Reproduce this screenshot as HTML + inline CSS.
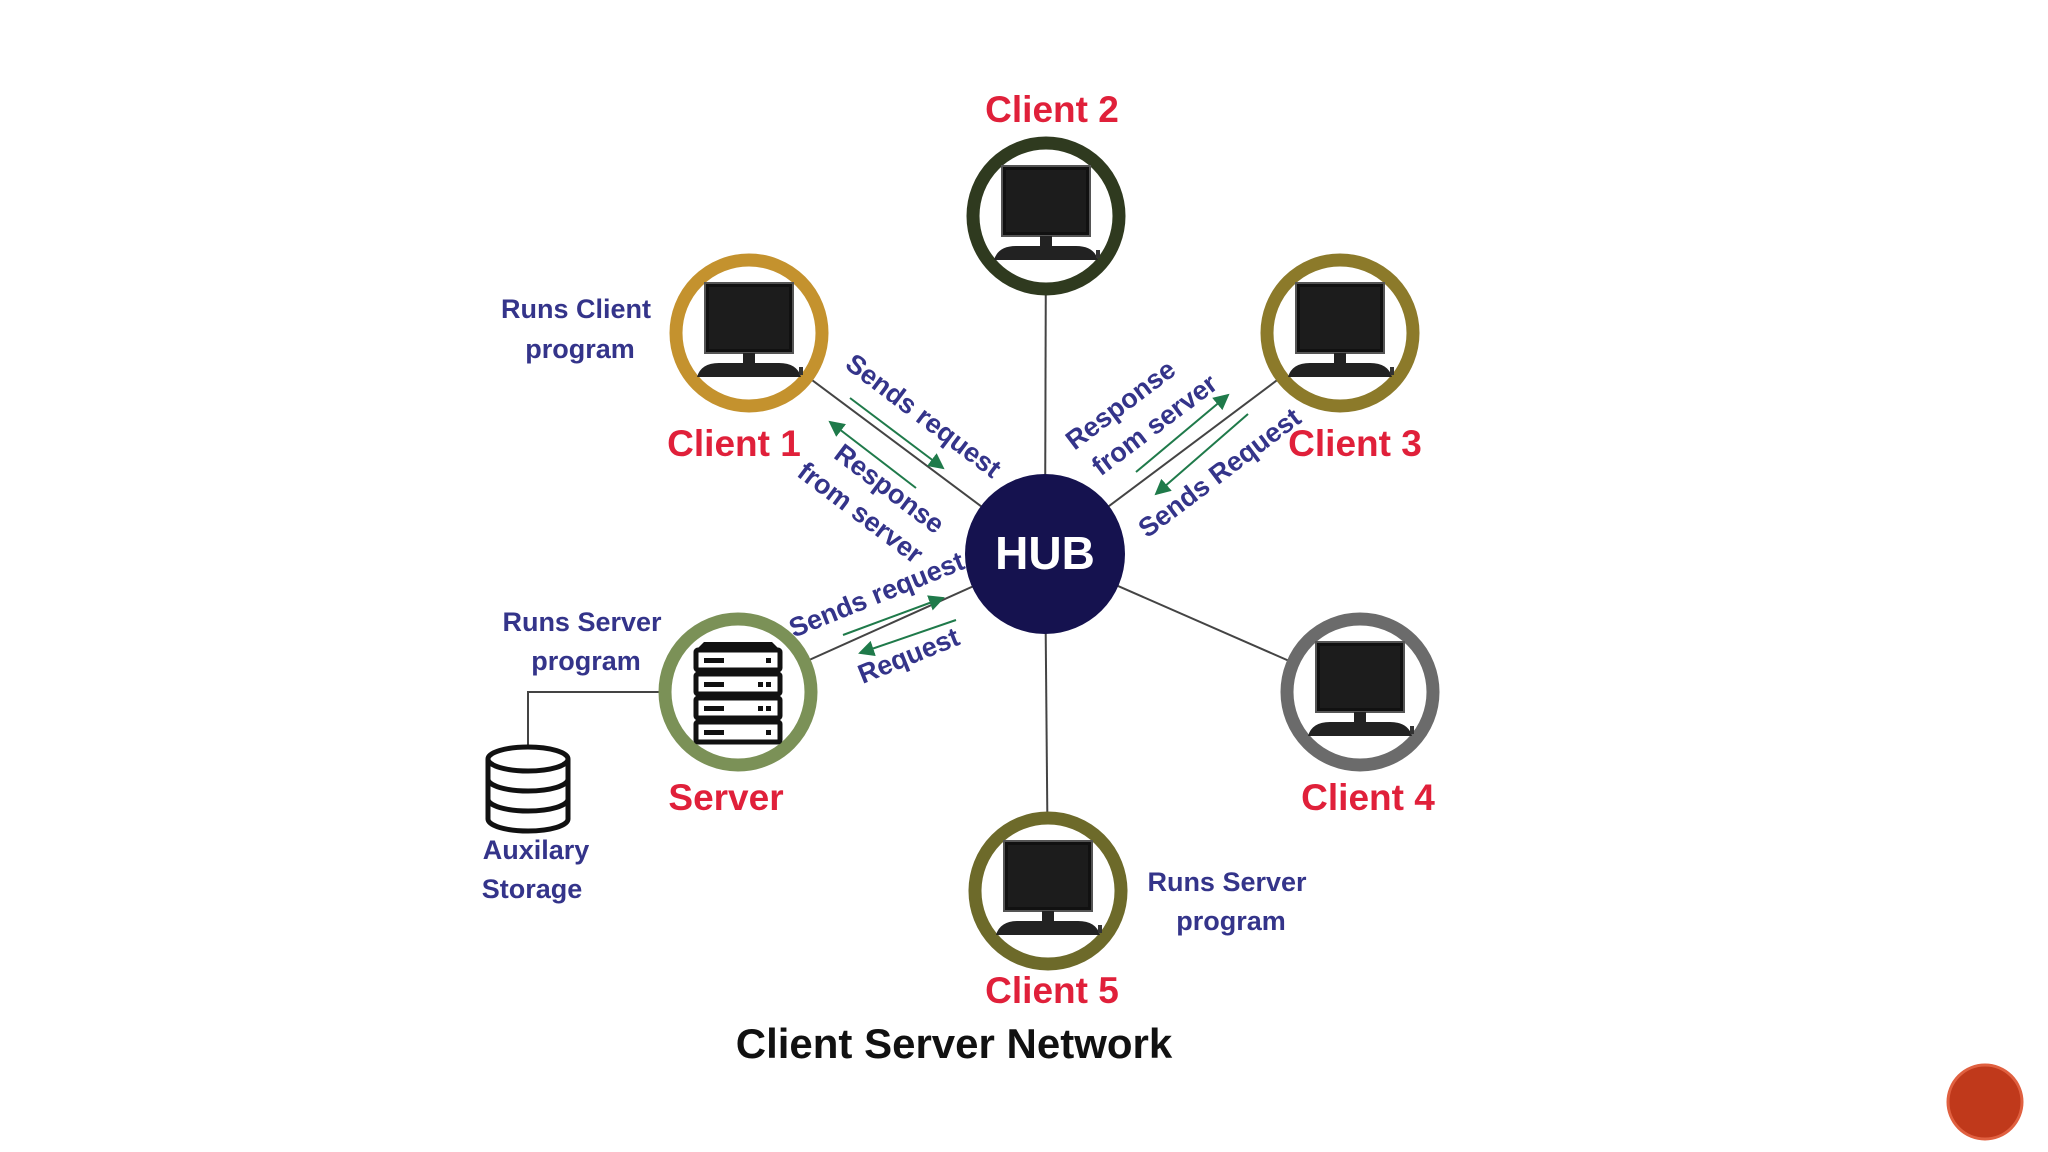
<!DOCTYPE html>
<html><head><meta charset="utf-8"><style>
html,body{margin:0;padding:0;background:#fff;}
svg{display:block;}
text{font-family:"Liberation Sans",sans-serif;}
.red{fill:#e0203a;font-size:37px;font-weight:bold;text-anchor:middle;}
.blue{fill:#34348a;font-size:27px;font-weight:bold;text-anchor:middle;}
</style></head><body>
<svg width="2048" height="1152" viewBox="0 0 2048 1152" xmlns="http://www.w3.org/2000/svg">
<defs>
<g id="mon">
  <rect x="-44" y="-50" width="88" height="70" fill="#111" stroke="#555" stroke-width="2"/>
  <rect x="-40" y="-46" width="80" height="62" fill="#1c1c1c"/>
  <rect x="-6" y="20" width="12" height="10" fill="#222"/>
  <path d="M-52 44 Q-48 30 -30 30 L30 30 Q48 30 52 44 Z" fill="#222"/>
  <rect x="50" y="34" width="4" height="8" fill="#333"/>
</g>
<marker id="ah" markerWidth="8" markerHeight="8" refX="7" refY="4" orient="auto"><path d="M0 0 L8 4 L0 8 Z" fill="#1f7a4a"/></marker>
</defs>
<rect width="2048" height="1152" fill="#fff"/>
<!-- connectors -->
<g stroke="#444" stroke-width="2">
<line x1="1045" y1="554" x2="1046" y2="216"/>
<line x1="1045" y1="554" x2="749" y2="333"/>
<line x1="1045" y1="554" x2="1340" y2="333"/>
<line x1="1045" y1="554" x2="738" y2="692"/>
<line x1="1045" y1="554" x2="1360" y2="692"/>
<line x1="1045" y1="554" x2="1048" y2="891"/>
<polyline points="664,692 528,692 528,763" fill="none"/>
</g>
<!-- green arrows -->
<g stroke="#1f7a4a" stroke-width="2" marker-end="url(#ah)">
<line x1="850" y1="398" x2="943" y2="468"/>
<line x1="916" y1="488" x2="830" y2="422"/>
<line x1="1136" y1="472" x2="1228" y2="395"/>
<line x1="1248" y1="414" x2="1156" y2="494"/>
<line x1="843" y1="635" x2="943" y2="598"/>
<line x1="956" y1="620" x2="860" y2="653"/>
</g>
<!-- hub -->
<circle cx="1045" cy="554" r="80" fill="#15124f"/>
<text x="1045" y="569" fill="#fff" font-size="46" font-weight="bold" text-anchor="middle">HUB</text>
<!-- nodes -->
<g fill="#fff" stroke-width="13">
<circle cx="1046" cy="216" r="73" stroke="#2f3a1f"/>
<circle cx="749" cy="333" r="73" stroke="#c4922e"/>
<circle cx="1340" cy="333" r="73" stroke="#8c7a2a"/>
<circle cx="738" cy="692" r="73" stroke="#7b9157"/>
<circle cx="1360" cy="692" r="73" stroke="#6b6b6b"/>
<circle cx="1048" cy="891" r="73" stroke="#6d6a2a"/>
</g>
<use href="#mon" x="1046" y="216"/>
<use href="#mon" x="749" y="333"/>
<use href="#mon" x="1340" y="333"/>
<use href="#mon" x="1360" y="692"/>
<use href="#mon" x="1048" y="891"/>
<!-- server icon -->
<g transform="translate(738,692)">
<path d="M-40 -44 L-34 -50 L34 -50 L40 -44 Z" fill="#111"/>
<g fill="#fff" stroke="#111" stroke-width="5">
<rect x="-42" y="-42" width="84" height="20" rx="2"/>
<rect x="-42" y="-18" width="84" height="20" rx="2"/>
<rect x="-42" y="6" width="84" height="20" rx="2"/>
<rect x="-42" y="30" width="84" height="20" rx="2"/>
</g>
<g fill="#111">
<rect x="-34" y="-34" width="20" height="5"/><rect x="-34" y="-10" width="20" height="5"/><rect x="-34" y="14" width="20" height="5"/><rect x="-34" y="38" width="20" height="5"/>
<rect x="28" y="-34" width="5" height="5"/><rect x="20" y="-10" width="5" height="5"/><rect x="28" y="-10" width="5" height="5"/><rect x="20" y="14" width="5" height="5"/><rect x="28" y="14" width="5" height="5"/><rect x="28" y="38" width="5" height="5"/>
</g>
</g>
<!-- database -->
<g fill="#fff" stroke="#111" stroke-width="5" transform="translate(528,787)">
<path d="M-40 -28 L-40 32 A40 12 0 0 0 40 32 L40 -28"/>
<ellipse cx="0" cy="-28" rx="40" ry="12"/>
<path d="M-40 -8 A40 12 0 0 0 40 -8" fill="none"/>
<path d="M-40 12 A40 12 0 0 0 40 12" fill="none"/>
</g>
<!-- red labels -->
<text class="red" x="1052" y="122">Client 2</text>
<text class="red" x="734" y="456">Client 1</text>
<text class="red" x="1355" y="456">Client 3</text>
<text class="red" x="726" y="810">Server</text>
<text class="red" x="1368" y="810">Client 4</text>
<text class="red" x="1052" y="1003">Client 5</text>
<!-- blue labels -->
<text class="blue" x="576" y="318">Runs Client</text>
<text class="blue" x="580" y="358">program</text>
<text class="blue" x="582" y="631">Runs Server</text>
<text class="blue" x="586" y="670">program</text>
<text class="blue" x="536" y="859">Auxilary</text>
<text class="blue" x="532" y="898">Storage</text>
<text class="blue" x="1227" y="891">Runs Server</text>
<text class="blue" x="1231" y="930">program</text>
<text class="blue" transform="translate(918,423) rotate(37)">Sends request</text>
<text class="blue" transform="translate(884,496) rotate(37)">Response</text>
<text class="blue" transform="translate(855,520) rotate(37)">from server</text>
<text class="blue" transform="translate(1126,412) rotate(-37)">Response</text>
<text class="blue" transform="translate(1160,432) rotate(-37)">from server</text>
<text class="blue" transform="translate(1225,480) rotate(-37)">Sends Request</text>
<text class="blue" transform="translate(880,603) rotate(-22)">Sends request</text>
<text class="blue" transform="translate(912,664) rotate(-22)">Request</text>
<!-- title -->
<text x="954" y="1058" fill="#111" font-size="42" font-weight="bold" text-anchor="middle">Client Server Network</text>
<!-- corner badge -->
<circle cx="1985" cy="1102" r="37" fill="#c0391b" stroke="#e06040" stroke-width="3"/>
</svg>
</body></html>
